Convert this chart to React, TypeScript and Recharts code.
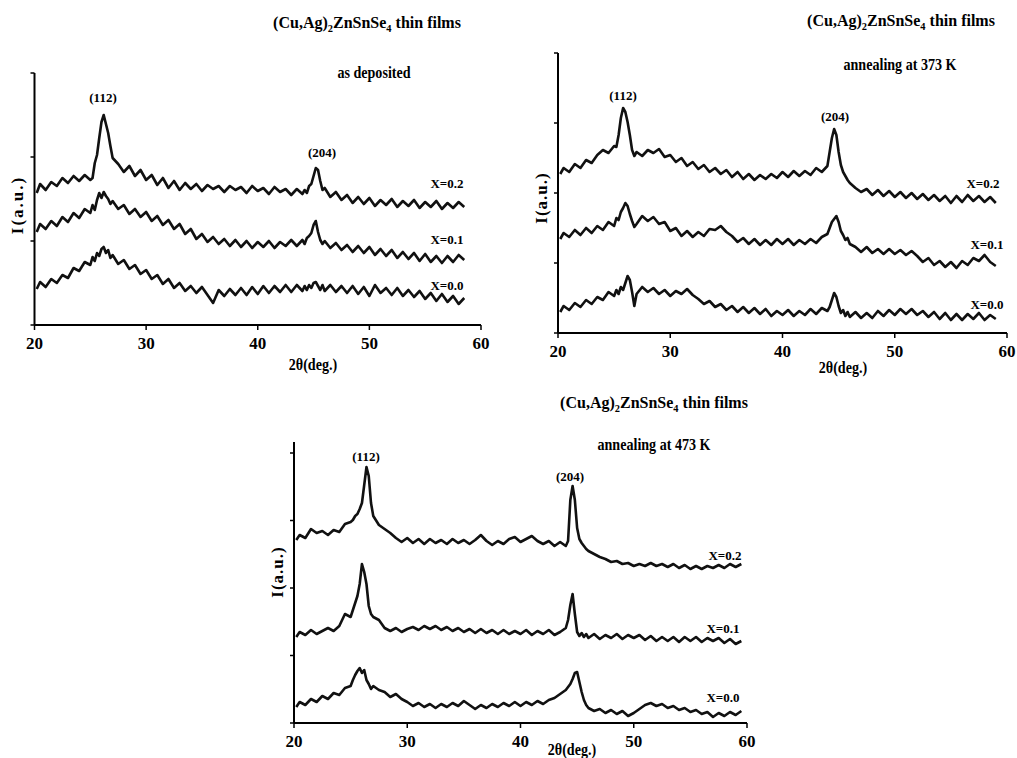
import { LineChart, Line, XAxis, YAxis } from 'recharts'

// 2θ sample positions (deg), shared by all three panels
const theta = [
  20.2, 20.5, 21, 21.5, 22, 22.5, 23, 23.5, 24, 24.5,
  25, 25.2, 25.4, 25.6, 25.8, 26, 26.2, 26.4, 26.6, 26.8,
  27, 27.5, 28, 28.5, 29, 29.5, 30, 30.5, 31, 31.5,
  32, 32.5, 33, 33.5, 34, 34.5, 35, 35.5, 36, 36.5,
  37, 37.5, 38, 38.5, 39, 39.5, 40, 40.5, 41, 41.5,
  42, 42.5, 43, 43.5, 44, 44.2, 44.4, 44.6, 44.8, 45,
  45.2, 45.4, 45.6, 45.8, 46, 46.5, 47, 47.5, 48, 48.5,
  49, 49.5, 50, 50.5, 51, 51.5, 52, 52.5, 53, 53.5,
  54, 54.5, 55, 55.5, 56, 56.5, 57, 57.5, 58, 58.5,
  59, 59.5,
]

// as deposited (stacked intensity, a.u.)
const dep02 = [
  132, 141, 135, 143, 139, 147, 142, 149, 144, 150,
  145, 147, 162, 170, 187, 203, 210, 201, 192, 179,
  167, 161, 153, 159, 149, 155, 145, 150, 140, 147,
  137, 144, 135, 142, 136, 141, 134, 140, 136, 139,
  133, 139, 135, 138, 132, 139, 134, 137, 131, 138,
  133, 136, 130, 136, 131, 135, 132, 139, 141, 149,
  157, 155, 144, 135, 137, 128, 133, 125, 130, 122,
  128, 121, 127, 119, 125, 120, 126, 118, 124, 119,
  125, 117, 123, 118, 124, 116, 122, 117, 123, 118,
]
const dep01 = [
  93, 101, 96, 104, 99, 108, 103, 112, 107, 116,
  112, 120, 115, 125, 132, 127, 133, 129, 126, 121,
  124, 116, 120, 111, 116, 108, 113, 104, 109, 100,
  105, 96, 101, 91, 96, 86, 91, 83, 88, 81,
  86, 79, 85, 78, 84, 77, 83, 78, 84, 77,
  83, 79, 85, 79, 85, 81, 87, 89, 92, 100,
  104, 93, 85, 81, 84, 77, 82, 75, 80, 73,
  79, 72, 78, 70, 76, 69, 75, 67, 73, 66,
  72, 64, 71, 63, 69, 62, 69, 63, 70, 65,
]
const dep00 = [
  36, 43, 38, 46, 42, 50, 47, 57, 54, 63,
  60, 68, 64, 72, 69, 76, 78, 72, 75, 67,
  70, 61, 65, 56, 60, 51, 55, 46, 50, 41,
  46, 37, 42, 34, 39, 32, 38, 30, 22, 35,
  29, 36, 30, 37, 30, 38, 31, 39, 32, 39,
  33, 40, 33, 40, 34, 39, 35, 40, 37, 42,
  43, 39, 35, 40, 34, 40, 33, 39, 32, 39,
  31, 38, 29, 40, 32, 37, 30, 37, 29, 35,
  28, 34, 26, 32, 24, 31, 23, 29, 21, 27,
]

// annealing at 373 K
const k373x02 = [
  159, 165, 161, 169, 165, 173, 170, 178, 183, 180,
  187, 186, 198, 215, 225, 221, 211, 198, 183, 177,
  181, 177, 183, 180, 184, 176, 178, 171, 175, 167,
  171, 164, 168, 161, 165, 159, 163, 156, 161, 154,
  159, 153, 158, 154, 159, 155, 161, 156, 162, 157,
  162, 158, 165, 161, 167, 181, 195, 204, 198, 181,
  168, 161, 157, 153, 150, 145, 141, 144, 138, 143,
  137, 142, 136, 141, 135, 140, 134, 139, 133, 138,
  132, 137, 130, 137, 131, 138, 132, 137, 131, 136,
  130,
]
const k373x01 = [
  94, 100, 96, 103, 98, 105, 100, 107, 103, 111,
  107, 115, 113, 121, 125, 130, 127, 119, 112, 106,
  109, 117, 112, 116, 109, 111, 102, 105, 97, 102,
  96, 101, 97, 104, 103, 107, 101, 97, 91, 95,
  89, 94, 88, 93, 88, 94, 89, 94, 88, 93,
  89, 94, 90, 96, 99, 105, 111, 114, 117, 111,
  102, 98, 93, 95, 89, 86, 81, 86, 80, 84,
  79, 84, 79, 83, 78, 82, 77, 71, 75, 68,
  72, 66, 71, 65, 72, 68, 75, 72, 78, 71,
  67,
]
const k373x00 = [
  21, 27, 23, 30, 26, 33, 29, 36, 33, 41,
  37, 43, 39, 46, 43, 50, 57, 53, 41, 27,
  39, 46, 41, 45, 39, 43, 37, 42, 39, 44,
  38, 34, 29, 32, 26, 29, 23, 27, 21, 26,
  20, 25, 19, 24, 17, 22, 18, 23, 17, 22,
  18, 24, 19, 25, 22, 26, 33, 40, 36, 27,
  20, 23, 17, 21, 16, 21, 15, 20, 15, 22,
  17, 23, 18, 24, 19, 24, 18, 22, 16, 21,
  14, 20, 13, 19, 13, 19, 14, 20, 13, 18,
  14,
]

// annealing at 473 K
const k473x02 = [
  183, 188, 185, 194, 190, 192, 188, 193, 191, 199,
  201, 203, 207, 209, 214, 220, 238, 256, 247, 220,
  207, 198, 194, 190, 185, 181, 185, 180, 184, 179,
  184, 180, 183, 179, 184, 180, 183, 179, 183, 188,
  182, 178, 182, 179, 184, 186, 181, 184, 187, 182,
  179, 182, 177, 181, 177, 182, 223, 237, 223, 195,
  184, 180, 177, 174, 172, 169, 166, 164, 161, 162,
  159, 160, 157, 159, 157, 160, 157, 159, 156, 159,
  155, 158, 154, 157, 154, 157, 155, 158, 155, 159,
  156, 159,
]
const k473x01 = [
  86, 91, 88, 93, 89, 92, 95, 92, 97, 109,
  106, 113, 120, 127, 139, 159, 151, 139, 117, 109,
  106, 103, 95, 92, 95, 91, 94, 96, 93, 97,
  94, 97, 93, 96, 92, 95, 91, 94, 90, 94,
  90, 93, 89, 93, 89, 92, 89, 93, 88, 92,
  89, 93, 88, 91, 95, 103, 118, 129, 109, 91,
  87, 90, 86, 89, 85, 89, 84, 88, 85, 89,
  84, 88, 85, 88, 83, 87, 82, 86, 82, 86,
  81, 86, 82, 86, 81, 85, 82, 85, 80, 84,
  79, 82,
]
const k473x00 = [
  16, 21, 18, 24, 21, 27, 24, 30, 28, 35,
  37, 43, 48, 52, 55, 50, 53, 43, 39, 34,
  37, 33, 31, 26, 29, 24, 21, 17, 20, 16,
  19, 15, 19, 16, 20, 17, 22, 18, 14, 18,
  15, 19, 16, 20, 17, 21, 17, 21, 18, 22,
  19, 23, 25, 29, 33, 36, 39, 44, 50, 51,
  41, 31, 23, 18, 15, 12, 14, 10, 13, 9,
  12, 7, 10, 14, 18, 20, 17, 19, 15, 17,
  13, 15, 11, 13, 9, 11, 6, 10, 7, 11,
  8, 12,
]

const xTicks = [20, 30, 40, 50, 60]

const serif = '"Liberation Serif", "Times New Roman", serif'

type Margin = { top: number, right: number, bottom: number, left: number }

// y axis keeps its tick marks but shows no numbers
const NoLabel = () => <g />

function Panel({ s02, s01, s00, yMax, yTicks, left, top, width, height, margin }: {
  s02: number[], s01: number[], s00: number[], yMax: number, yTicks: number[],
  left: number, top: number, width: number, height: number, margin: Margin
}) {
  const rows = theta.map((t, i) => ({ t, a: s02[i], b: s01[i], c: s00[i] }))
  return (
    <div style={{ position: 'absolute', left, top }}>
      <LineChart width={width} height={height} data={rows} margin={margin}>
        <XAxis type="number" dataKey="t" domain={[20, 60]} ticks={xTicks} interval={0} height={30}
          axisLine={{ stroke: '#000', strokeWidth: 2 }} tickLine={{ stroke: '#000', strokeWidth: 1.5 }}
          tickSize={5} tickMargin={7}
          tick={{ fill: '#000', fontSize: 17, fontWeight: 700, fontFamily: serif }} />
        <YAxis type="number" domain={[0, yMax]} ticks={yTicks} interval={0} tick={NoLabel} width={10}
          axisLine={{ stroke: '#000', strokeWidth: 2 }} tickLine={{ stroke: '#000', strokeWidth: 1.5 }}
          tickSize={4} />
        {['a', 'b', 'c'].map(k => (
          <Line key={k} type="linear" dataKey={k} stroke="#111" strokeWidth={2.6}
            strokeLinejoin="round" dot={false} activeDot={false} isAnimationActive={false} />
        ))}
      </LineChart>
    </div>
  )
}

function Txt({ x, y, size = 16, rot = false, sx = 1, ls = 0, children }: {
  x: number, y: number, size?: number, rot?: boolean, sx?: number, ls?: number, children: React.ReactNode
}) {
  return (
    <div style={{
      position: 'absolute', left: x, top: y, whiteSpace: 'nowrap', lineHeight: 1,
      transform: `translate(-50%, -50%)${rot ? ' rotate(-90deg)' : ''} scaleX(${sx})`,
      fontFamily: serif, fontWeight: 700, fontSize: size, letterSpacing: ls, color: '#000'
    }}>
      {children}
    </div>
  )
}

const Title = () => (
  <span>(Cu,Ag)<sub style={{ fontSize: '0.65em' }}>2</sub>ZnSnSe<sub style={{ fontSize: '0.65em' }}>4</sub> thin films</span>
)

export default function App() {
  return (
    <div style={{ position: 'absolute', left: 0, top: 0, width: 1017, height: 758, background: '#fff', overflow: 'hidden' }}>
      <Panel s02={dep02} s01={dep01} s00={dep00} yMax={252} yTicks={[0, 84, 168, 252]}
        left={0} top={0} width={500} height={360}
        margin={{ top: 73, right: 19, bottom: 5, left: 24.5 }} />
      <Panel s02={k373x02} s01={k373x01} s00={k373x00} yMax={280} yTicks={[0, 70, 140, 210, 280]}
        left={510} top={0} width={507} height={370}
        margin={{ top: 53, right: 10, bottom: 7, left: 38 }} />
      <Panel s02={k473x02} s01={k473x01} s00={k473x00} yMax={281} yTicks={[0, 67.5, 135, 202.5, 270]}
        left={260} top={390} width={500} height={368}
        margin={{ top: 52, right: 13, bottom: 5, left: 24 }} />

      {/* panel 1 texts */}
      <Txt x={367} y={25}><Title /></Txt>
      <Txt x={374} y={73} sx={0.88}>as deposited</Txt>
      <Txt x={103} y={97} size={13}>(112)</Txt>
      <Txt x={322} y={152} size={13}>(204)</Txt>
      <Txt x={447} y={183} size={13}>X=0.2</Txt>
      <Txt x={447} y={239} size={13}>X=0.1</Txt>
      <Txt x={447} y={285} size={13}>X=0.0</Txt>
      <Txt x={313} y={365} sx={0.88}>2θ(deg.)</Txt>
      <Txt x={17} y={205} size={17} rot ls={2}>I(a.u.)</Txt>

      {/* panel 2 texts */}
      <Txt x={901} y={23}><Title /></Txt>
      <Txt x={900} y={65} sx={0.88}>annealing at 373 K</Txt>
      <Txt x={623} y={95} size={13}>(112)</Txt>
      <Txt x={835} y={116} size={13}>(204)</Txt>
      <Txt x={983} y={183} size={13}>X=0.2</Txt>
      <Txt x={987} y={244} size={13}>X=0.1</Txt>
      <Txt x={987} y={304} size={13}>X=0.0</Txt>
      <Txt x={843} y={368} sx={0.88}>2θ(deg.)</Txt>
      <Txt x={541} y={198} size={17} rot ls={1}>I(a.u.)</Txt>

      {/* panel 3 texts */}
      <Txt x={654} y={405}><Title /></Txt>
      <Txt x={654} y={445} sx={0.88}>annealing at 473 K</Txt>
      <Txt x={366} y={456} size={13}>(112)</Txt>
      <Txt x={570} y={476} size={13}>(204)</Txt>
      <Txt x={725} y={555} size={13}>X=0.2</Txt>
      <Txt x={723} y={628} size={13}>X=0.1</Txt>
      <Txt x={723} y={697} size={13}>X=0.0</Txt>
      <Txt x={572} y={750} sx={0.88}>2θ(deg.)</Txt>
      <Txt x={277} y={572} size={17} rot ls={1}>I(a.u.)</Txt>
    </div>
  )
}
